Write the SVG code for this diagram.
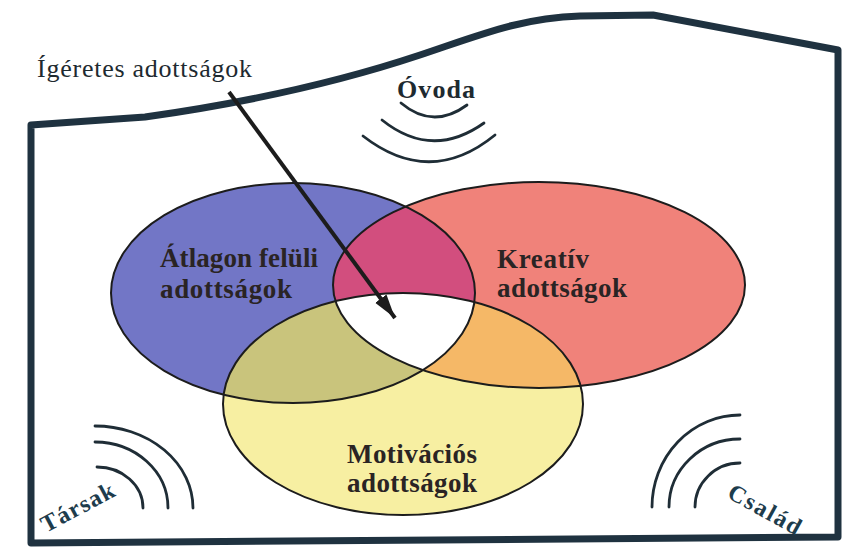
<svg xmlns="http://www.w3.org/2000/svg" width="843" height="550" viewBox="0 0 843 550">
<style>
.frame{fill:none;stroke:#1f3240;stroke-width:7;stroke-linejoin:round}
.outline{fill:none;stroke:#1c1c1c;stroke-width:2}
.wave{fill:none;stroke:#1f2d36;stroke-width:2.8;stroke-linecap:round}
.lbl{font-family:"Liberation Serif",serif;font-weight:bold;font-size:27px;fill:#2a2424}
.side{font-family:"Liberation Serif",serif;font-size:24px;fill:#1d3c4c;font-weight:bold}
.title{font-family:"Liberation Serif",serif;font-size:26px;fill:#1e2a30}
</style>
<defs>
<ellipse id="eB" cx="293" cy="293" rx="182" ry="110"/>
<ellipse id="eR" cx="539" cy="285" rx="206" ry="103"/>
<ellipse id="eY" cx="403" cy="404" rx="180" ry="111"/>
<clipPath id="cB"><use href="#eB"/></clipPath>
<clipPath id="cR"><use href="#eR"/></clipPath>
<clipPath id="cY"><use href="#eY"/></clipPath>
<marker id="ah" markerUnits="userSpaceOnUse" markerWidth="26" markerHeight="18" refX="24" refY="9" orient="auto">
<path d="M0,2 L24,9 L0,16 Z" fill="#1c1c1c"/>
</marker>
</defs>
<rect width="843" height="550" fill="#ffffff"/>
<g id="frame">
<path class="frame" d="M31,125 L145,117 C230,105 330,85 420,55 C480,35 520,18 580,16 L653,15 L838,50 L838,537 L31,543 Z"/>
</g>
<g id="title"><text class="title" x="37" y="77" textLength="215">Ígéretes adottságok</text></g>
<g id="ovoda">
<text class="title" x="397" y="98" font-size="28" font-weight="bold" textLength="78">Óvoda</text>
<path class="wave" d="M401,103 Q433,130 467,105"/>
<path class="wave" d="M382,120 Q432,160 484,123"/>
<path class="wave" d="M363,136 Q430,188 495,135"/>
</g>
<g id="venn">
<use href="#eB" fill="#7276c6"/>
<use href="#eR" fill="#f0827a"/>
<use href="#eY" fill="#f7efa2"/>
<g clip-path="url(#cB)"><use href="#eR" fill="#d24e7e"/></g>
<g clip-path="url(#cB)"><use href="#eY" fill="#c9c47c"/></g>
<g clip-path="url(#cR)"><use href="#eY" fill="#f5b867"/></g>
<g clip-path="url(#cR)"><g clip-path="url(#cB)"><use href="#eY" fill="#ffffff"/></g></g>
<use href="#eB" class="outline"/>
<use href="#eR" class="outline"/>
<use href="#eY" class="outline"/>
</g>
<g id="blue-label"><text class="lbl" x="160" y="267" textLength="158">Átlagon felüli</text><text class="lbl" x="160" y="298" textLength="132">adottságok</text></g>
<g id="red-label"><text class="lbl" x="497" y="268" textLength="92">Kreatív</text><text class="lbl" x="497" y="297" textLength="130">adottságok</text></g>
<g id="yellow-label"><text class="lbl" x="347" y="463" textLength="130">Motivációs</text><text class="lbl" x="347" y="492" textLength="130">adottságok</text></g>
<g id="tarsak">
<path class="wave" d="M95,426 A98,82 0 0 1 193,508"/>
<path class="wave" d="M95,442 A73,66 0 0 1 168,508"/>
<path class="wave" d="M97,467 A46,41 0 0 1 143,508"/>
<text class="side" transform="translate(46,533) rotate(-28)" textLength="80">Társak</text>
</g>
<g id="csalad">
<path class="wave" d="M740,415 A88,92 0 0 0 652,507"/>
<path class="wave" d="M740,439 A71,68 0 0 0 669,507"/>
<path class="wave" d="M740,463 A45,44 0 0 0 695,507"/>
<text class="side" transform="translate(726,497) rotate(29)" textLength="80">Család</text>
</g>
<g id="connectors">
<line x1="229" y1="92" x2="395" y2="318" stroke="#1c1c1c" stroke-width="4" marker-end="url(#ah)"/>
</g>
</svg>
